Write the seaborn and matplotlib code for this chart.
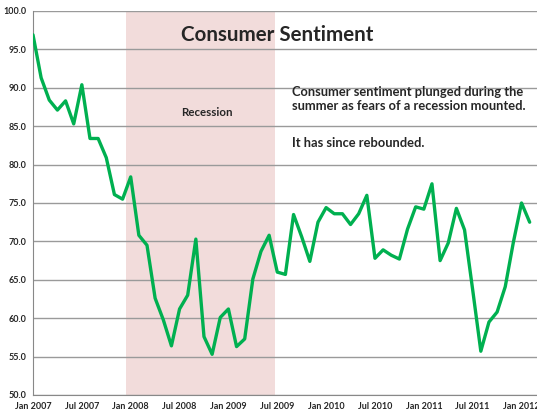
import pandas as pd
import numpy as np
import matplotlib
matplotlib.use('Agg')
import matplotlib.pyplot as plt
import seaborn as sns

# Monthly consumer sentiment, Jan 2007 - Feb 2012
sentiment = [96.9, 91.3, 88.4, 87.1, 88.3, 85.3, 90.4, 83.4, 83.4, 80.9, 76.1, 75.5,
             78.4, 70.8, 69.5, 62.6, 59.8, 56.4, 61.2, 63.0, 70.3, 57.6, 55.3, 60.1,
             61.2, 56.3, 57.3, 65.1, 68.7, 70.8, 66.0, 65.7, 73.5, 70.6, 67.4, 72.5,
             74.4, 73.6, 73.6, 72.2, 73.6, 76.0, 67.8, 68.9, 68.2, 67.7, 71.6, 74.5,
             74.2, 77.5, 67.5, 69.8, 74.3, 71.5, 63.7, 55.7, 59.5, 60.8, 64.1, 69.9,
             75.0, 72.5]
tick_labels = ['Jan 2007', 'Jul 2007', 'Jan 2008', 'Jul 2008', 'Jan 2009', 'Jul 2009',
               'Jan 2010', 'Jul 2010', 'Jan 2011', 'Jul 2011', 'Jan 2012']
recession_start = 11.4   # months after Jan 2007
recession_end = 29.7

df = pd.DataFrame({'month': np.arange(len(sentiment)), 'sentiment': sentiment})

sns.set_style('white')
plt.rcParams['font.family'] = ['Lato', 'DejaVu Sans']

fig = plt.figure(figsize=(5.37, 4.13), dpi=100)
ax = fig.add_axes([33 / 537, 18 / 413, 504 / 537, 384 / 413])

ax.axvspan(recession_start, recession_end, color='#F2DCDB', zorder=0, lw=0)
ax.set_axisbelow(True)
ax.yaxis.grid(True, color='#9a9a9a', lw=1)

sns.lineplot(data=df, x='month', y='sentiment', ax=ax, color='#00B050', lw=2.4, zorder=3)

ax.set_ylim(50, 100)
ax.set_xlim(0, 61.9)
ax.set_yticks(np.arange(50, 101, 5))
ax.set_yticklabels([f'{v:.1f}' for v in np.arange(50, 101, 5)], fontsize=6.5, fontweight='bold')
ax.set_xticks(np.arange(0, 61, 6))
ax.set_xticklabels(tick_labels, fontsize=6.5, fontweight='bold')
ax.tick_params(axis='both', length=3, width=0.8, color='#888888', pad=2)
ax.set_xlabel('')
ax.set_ylabel('')

for side in ['top', 'right']:
    ax.spines[side].set_visible(False)
for side in ['left', 'bottom']:
    ax.spines[side].set_color('#888888')
    ax.spines[side].set_linewidth(0.8)

fig.text(277 / 537, 1 - 35 / 413, 'Consumer Sentiment', ha='center', va='center',
         fontsize=14.8, fontweight='bold')
fig.text(207 / 537, 1 - 113 / 413, 'Recession', ha='center', va='center',
         fontsize=8.3, fontweight='bold')
fig.text(292 / 537, 1 - 99 / 413,
         'Consumer sentiment plunged during the\nsummer as fears of a recession mounted.',
         ha='left', va='center', fontsize=9.3, fontweight='bold', linespacing=1.15)
fig.text(292 / 537, 1 - 143 / 413, 'It has since rebounded.', ha='left', va='center',
         fontsize=9.3, fontweight='bold')

plt.savefig('out.png', dpi=100)
